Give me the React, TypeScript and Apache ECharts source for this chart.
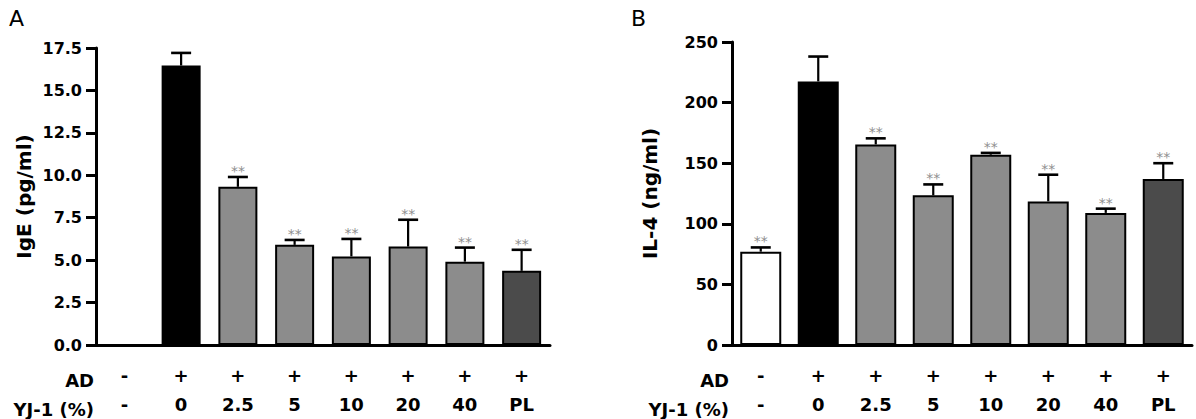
import React, { useEffect, useRef } from "react";
import * as echarts from "echarts";

// Treatment groups shown under each panel (two label rows)
const adRow = ["-", "+", "+", "+", "+", "+", "+", "+"];
const yjRow = ["-", "0", "2.5", "5", "10", "20", "40", "PL"];

// Panel A: serum IgE (pg/ml), mean and mean + SD
const igeMean: (number | null)[] = [null, 16.47, 9.32, 5.9, 5.22, 5.8, 4.91, 4.37];
const igeUpper: (number | null)[] = [null, 17.21, 9.9, 6.19, 6.25, 7.38, 5.74, 5.61];
const igeSig = [false, false, true, true, true, true, true, true];

// Panel B: IL-4 (ng/ml), mean and mean + SD
const il4Mean = [77, 217.5, 165.5, 123.5, 157, 118.5, 109, 137];
const il4Upper = [80.5, 238, 170.5, 132.5, 158.5, 140.5, 112.5, 150];
const il4Sig = [true, false, true, true, true, true, true, true];

// Bar fills per group
const barFills = ["#ffffff", "#000000", "#8c8c8c", "#8c8c8c", "#8c8c8c", "#8c8c8c", "#8c8c8c", "#4b4b4b"];

const FONT = "DejaVu Sans";

function errorSeries(gridIdx: number, mean: (number | null)[], upper: (number | null)[], sig: boolean[]) {
  const data: number[][] = [];
  mean.forEach((m, i) => {
    if (m == null || upper[i] == null) return;
    data.push([i, m, upper[i] as number, sig[i] ? 1 : 0]);
  });
  return {
    type: "custom",
    xAxisIndex: gridIdx,
    yAxisIndex: gridIdx,
    z: 5,
    data,
    renderItem: (_params: any, api: any) => {
      const x = api.value(0);
      const base = api.coord([x, api.value(1)]);
      const top = api.coord([x, api.value(2)]);
      const half = 10;
      const children: any[] = [
        {
          type: "line",
          shape: { x1: base[0], y1: base[1], x2: top[0], y2: top[1] },
          style: { stroke: "#000", lineWidth: 2.2 },
        },
        {
          type: "line",
          shape: { x1: top[0] - half, y1: top[1], x2: top[0] + half, y2: top[1] },
          style: { stroke: "#000", lineWidth: 2.6 },
        },
      ];
      if (api.value(3)) {
        children.push({
          type: "text",
          x: top[0],
          y: top[1] - 6,
          style: {
            text: "**",
            fill: "#8f8f8f",
            fontSize: 14,
            fontFamily: FONT,
            align: "center",
            verticalAlign: "middle",
          },
        });
      }
      return { type: "group", children };
    },
  };
}

function barSeries(gridIdx: number, mean: (number | null)[], width: number) {
  return {
    type: "bar",
    xAxisIndex: gridIdx,
    yAxisIndex: gridIdx,
    barWidth: width,
    z: 2,
    data: mean.map((v, i) => ({
      value: v == null ? "-" : v,
      itemStyle: { color: barFills[i], borderColor: "#000", borderWidth: 2 },
    })),
  };
}

const axisLineStyle = { color: "#000", width: 3 };

function xAxis(gridIdx: number) {
  return {
    type: "category",
    gridIndex: gridIdx,
    data: yjRow,
    axisLine: { lineStyle: axisLineStyle },
    axisTick: { show: false },
    axisLabel: {
      interval: 0,
      margin: 16,
      color: "#000",
      fontFamily: FONT,
      fontWeight: "bold",
      fontSize: 18,
      lineHeight: 29,
      formatter: (_v: string, i: number) => `${adRow[i]}\n${yjRow[i]}`,
    },
  };
}

function yAxis(gridIdx: number, max: number, interval: number, name: string, nameGap: number, digits: number) {
  return {
    type: "value",
    gridIndex: gridIdx,
    min: 0,
    max,
    interval,
    name,
    nameLocation: "middle",
    nameGap,
    nameTextStyle: { color: "#000", fontFamily: FONT, fontWeight: "bold", fontSize: 20 },
    splitLine: { show: false },
    axisLine: { show: true, lineStyle: axisLineStyle },
    axisTick: { show: true, length: 10, lineStyle: { color: "#000", width: 3 } },
    axisLabel: {
      margin: 14,
      color: "#000",
      fontFamily: FONT,
      fontWeight: "bold",
      fontSize: 16,
      formatter: (v: number) => v.toFixed(digits),
    },
  };
}

function headerTexts(rightX: number) {
  const base = { fill: "#000", fontFamily: FONT, fontWeight: "bold", fontSize: 18, align: "right", verticalAlign: "middle" };
  return [
    { type: "text", x: rightX, y: 380, style: { ...base, text: "AD" } },
    { type: "text", x: rightX, y: 409, style: { ...base, text: "YJ-1 (%)" } },
  ];
}

export default function App() {
  const ref = useRef<HTMLDivElement>(null);

  useEffect(() => {
    document.body.style.margin = "0";
    if (!ref.current) return;
    const chart = echarts.init(ref.current, undefined, { renderer: "svg" });
    chart.setOption({
      animation: false,
      backgroundColor: "#fff",
      grid: [
        { left: 96, top: 48, width: 454, height: 302 },
        { left: 732, top: 42, width: 460, height: 305 },
      ],
      xAxis: [xAxis(0), xAxis(1)],
      yAxis: [
        yAxis(0, 17.5, 2.5, "IgE (pg/ml)", 62, 1),
        yAxis(1, 250, 50, "IL-4 (ng/ml)", 72, 0),
      ],
      series: [
        barSeries(0, igeMean, 39),
        errorSeries(0, igeMean, igeUpper, igeSig),
        barSeries(1, il4Mean, 41),
        errorSeries(1, il4Mean, il4Upper, il4Sig),
      ],
      graphic: [
        { type: "text", x: 9, y: 7, style: { text: "A", fill: "#000", fontFamily: FONT, fontSize: 22 } },
        { type: "text", x: 631, y: 7, style: { text: "B", fill: "#000", fontFamily: FONT, fontSize: 22 } },
        ...headerTexts(94),
        ...headerTexts(729),
      ],
    });
    return () => chart.dispose();
  }, []);

  return <div ref={ref} style={{ width: 1196, height: 419 }} />;
}
